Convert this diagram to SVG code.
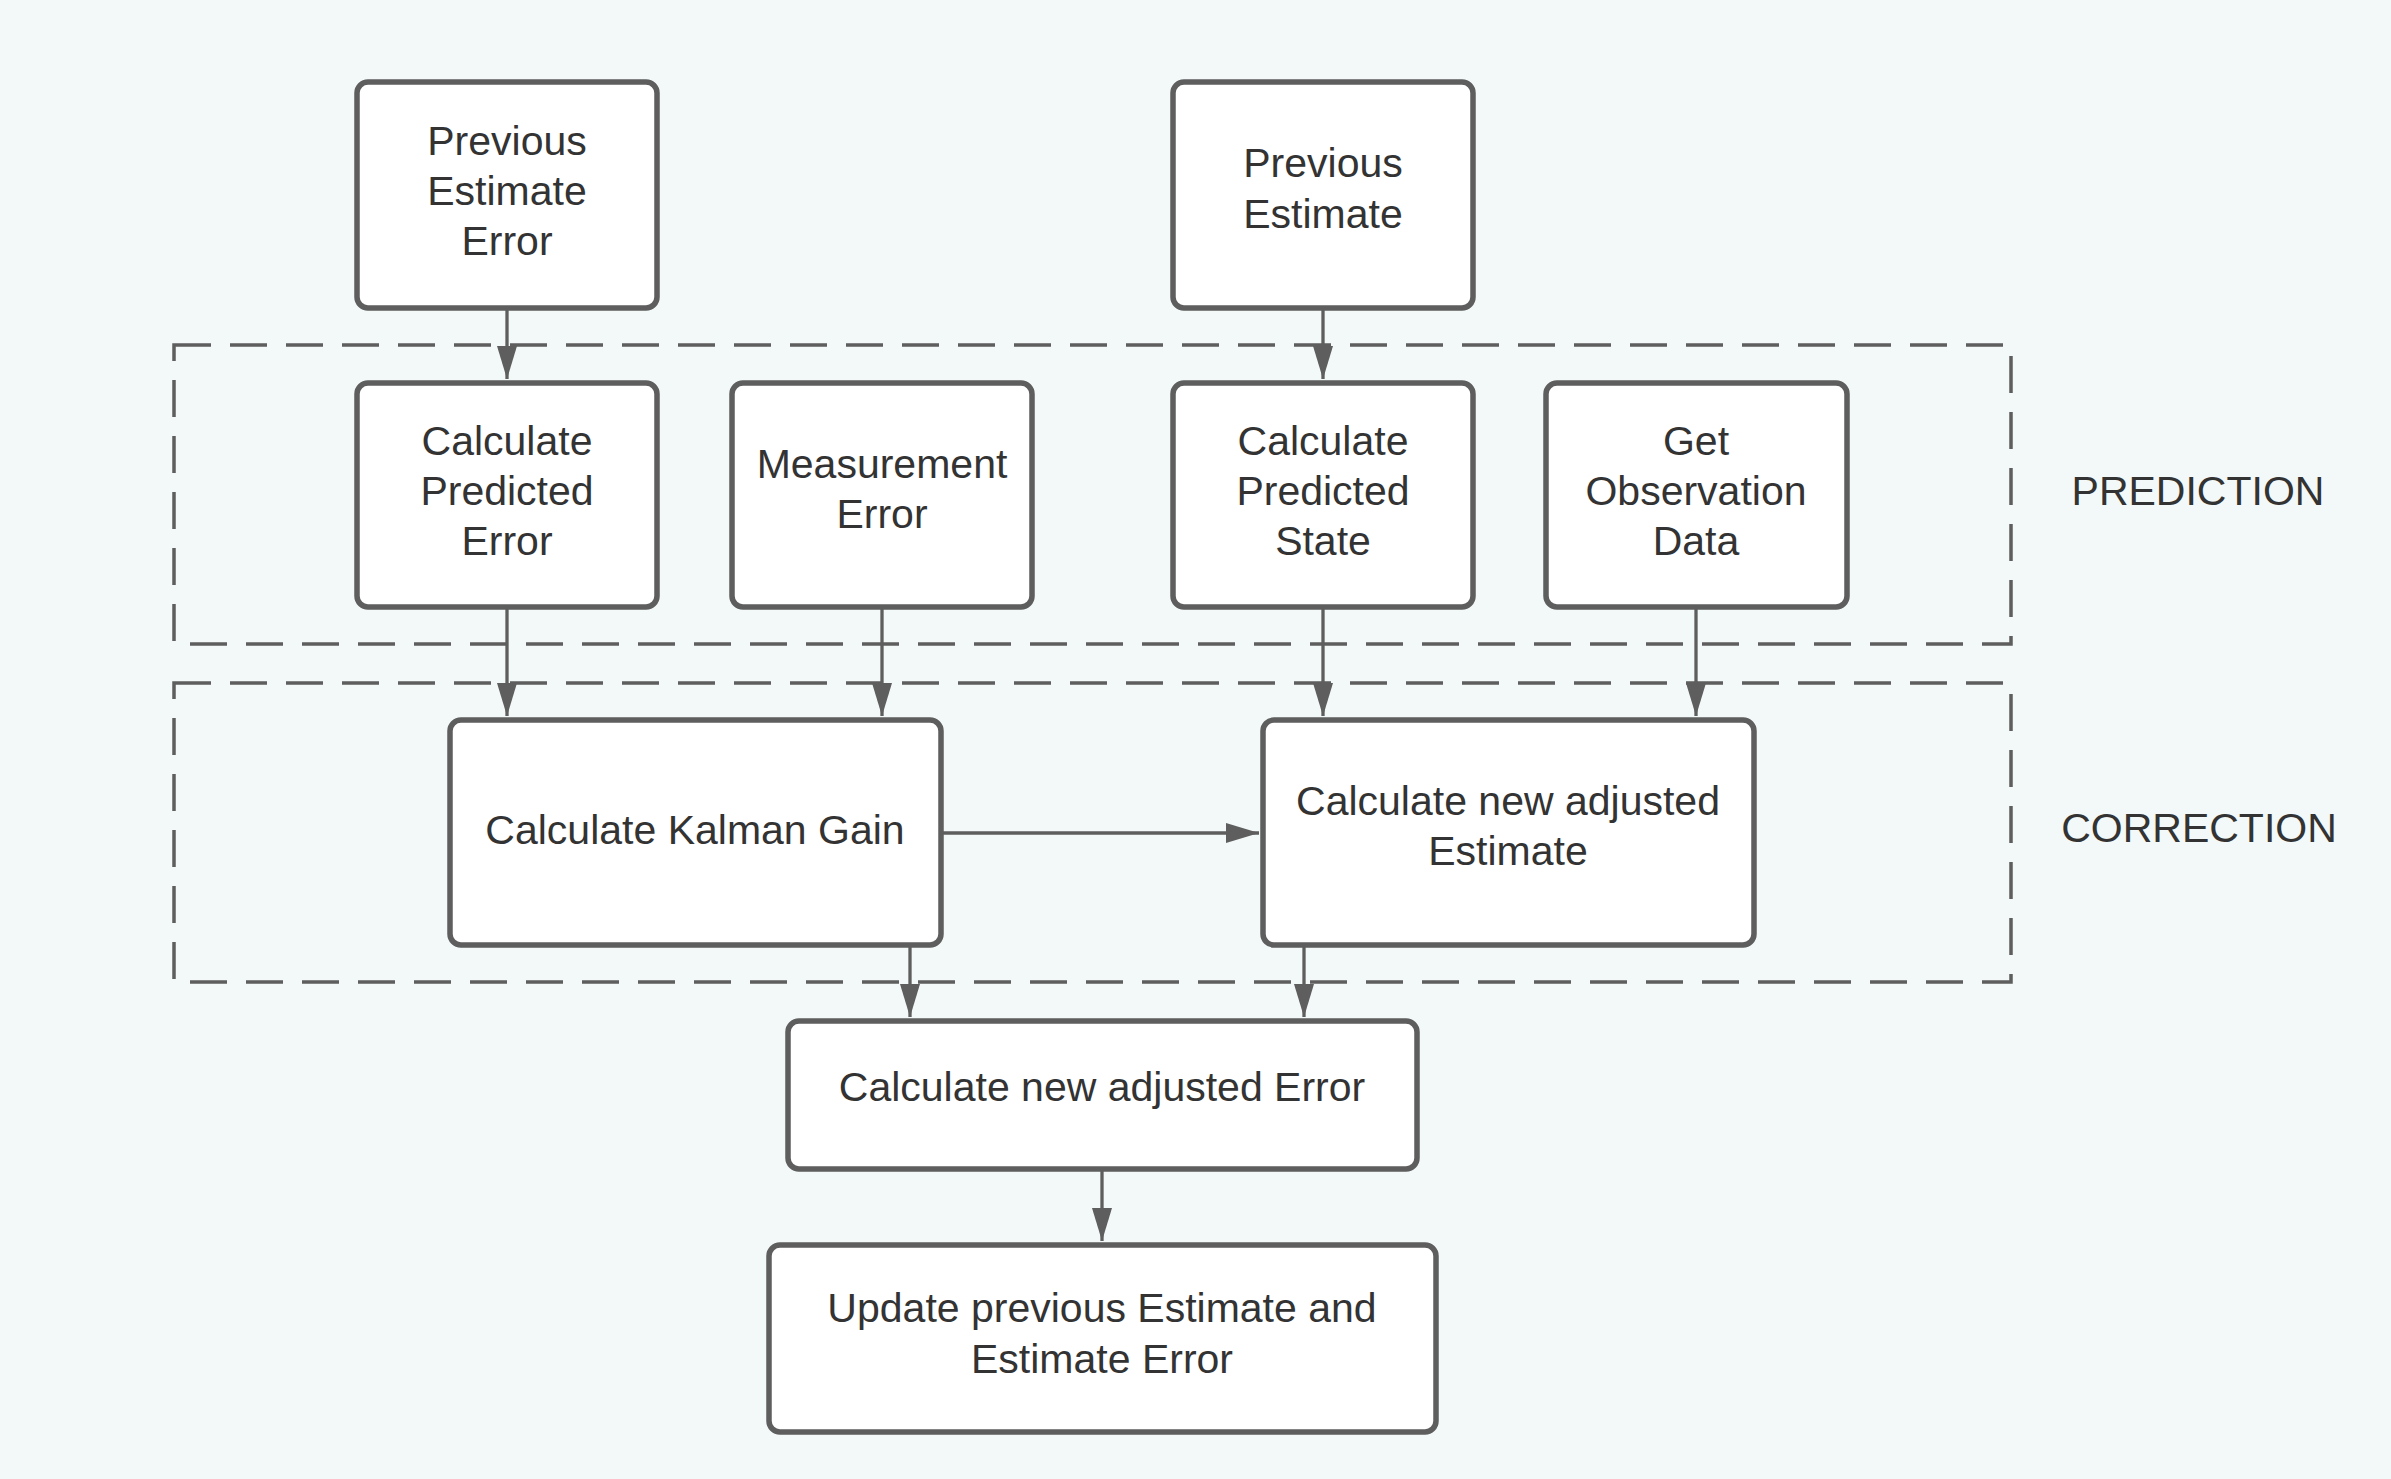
<svg xmlns="http://www.w3.org/2000/svg" width="2391" height="1479" viewBox="0 0 2391 1479">
<style>
.box{fill:#ffffff;stroke:#5e5e5e;stroke-width:5.5}
.grp{fill:none;stroke:#5e5e5e;stroke-width:3.5;stroke-dasharray:37 19}
.lbl{font-family:"Liberation Sans",Arial,sans-serif;font-size:41px;fill:#333333;text-anchor:middle}
.edge{fill:none;stroke:#5e5e5e;stroke-width:3.3}
</style>
<defs>
<marker id="arr" viewBox="0 0 33 20" refX="33" refY="10" markerWidth="33" markerHeight="20" markerUnits="userSpaceOnUse" orient="auto">
<path d="M0,0 L33,10 L0,20 Z" fill="#5e5e5e"/>
</marker>
</defs>
<rect x="0" y="0" width="2391" height="1479" fill="#f2f9f8"/>
<g id="groups">
<rect class="grp" x="174" y="345" width="1837" height="299"/>
<rect class="grp" x="174" y="683" width="1837" height="299"/>
<text class="lbl" x="2198" y="505">PREDICTION</text>
<text class="lbl" x="2199" y="842">CORRECTION</text>
</g>
<g id="connectors">
<line class="edge" x1="507" y1="310" x2="507" y2="379" marker-end="url(#arr)"/>
<line class="edge" x1="1323" y1="310" x2="1323" y2="379" marker-end="url(#arr)"/>
<line class="edge" x1="507" y1="609" x2="507" y2="716" marker-end="url(#arr)"/>
<line class="edge" x1="882" y1="609" x2="882" y2="716" marker-end="url(#arr)"/>
<line class="edge" x1="1323" y1="609" x2="1323" y2="716" marker-end="url(#arr)"/>
<line class="edge" x1="1696" y1="609" x2="1696" y2="716" marker-end="url(#arr)"/>
<line class="edge" x1="943" y1="833" x2="1259" y2="833" marker-end="url(#arr)"/>
<line class="edge" x1="910" y1="947" x2="910" y2="1017" marker-end="url(#arr)"/>
<line class="edge" x1="1304" y1="947" x2="1304" y2="1017" marker-end="url(#arr)"/>
<line class="edge" x1="1102" y1="1171" x2="1102" y2="1241" marker-end="url(#arr)"/>
</g>
<g id="prev-estimate-error">
<rect class="box" x="357" y="82" width="300" height="226" rx="11"/>
<text class="lbl" x="507" y="155">Previous</text>
<text class="lbl" x="507" y="205">Estimate</text>
<text class="lbl" x="507" y="255">Error</text>
</g>
<g id="prev-estimate">
<rect class="box" x="1173" y="82" width="300" height="226" rx="11"/>
<text class="lbl" x="1323" y="177">Previous</text>
<text class="lbl" x="1323" y="228">Estimate</text>
</g>
<g id="calc-predicted-error">
<rect class="box" x="357" y="383" width="300" height="224" rx="11"/>
<text class="lbl" x="507" y="455">Calculate</text>
<text class="lbl" x="507" y="505">Predicted</text>
<text class="lbl" x="507" y="555">Error</text>
</g>
<g id="measurement-error">
<rect class="box" x="732" y="383" width="300" height="224" rx="11"/>
<text class="lbl" x="882" y="478">Measurement</text>
<text class="lbl" x="882" y="528">Error</text>
</g>
<g id="calc-predicted-state">
<rect class="box" x="1173" y="383" width="300" height="224" rx="11"/>
<text class="lbl" x="1323" y="455">Calculate</text>
<text class="lbl" x="1323" y="505">Predicted</text>
<text class="lbl" x="1323" y="555">State</text>
</g>
<g id="get-observation-data">
<rect class="box" x="1546" y="383" width="301" height="224" rx="11"/>
<text class="lbl" x="1696" y="455">Get</text>
<text class="lbl" x="1696" y="505">Observation</text>
<text class="lbl" x="1696" y="555">Data</text>
</g>
<g id="kalman-gain">
<rect class="box" x="450" y="720" width="491" height="225" rx="11"/>
<text class="lbl" x="695" y="844">Calculate Kalman Gain</text>
</g>
<g id="new-adjusted-estimate">
<rect class="box" x="1263" y="720" width="491" height="225" rx="11"/>
<text class="lbl" x="1508" y="815">Calculate new adjusted</text>
<text class="lbl" x="1508" y="865">Estimate</text>
</g>
<g id="new-adjusted-error">
<rect class="box" x="788" y="1021" width="629" height="148" rx="11"/>
<text class="lbl" x="1102" y="1101">Calculate new adjusted Error</text>
</g>
<g id="update-previous">
<rect class="box" x="769" y="1245" width="667" height="187" rx="11"/>
<text class="lbl" x="1102" y="1322">Update previous Estimate and</text>
<text class="lbl" x="1102" y="1373">Estimate Error</text>
</g>
</svg>
